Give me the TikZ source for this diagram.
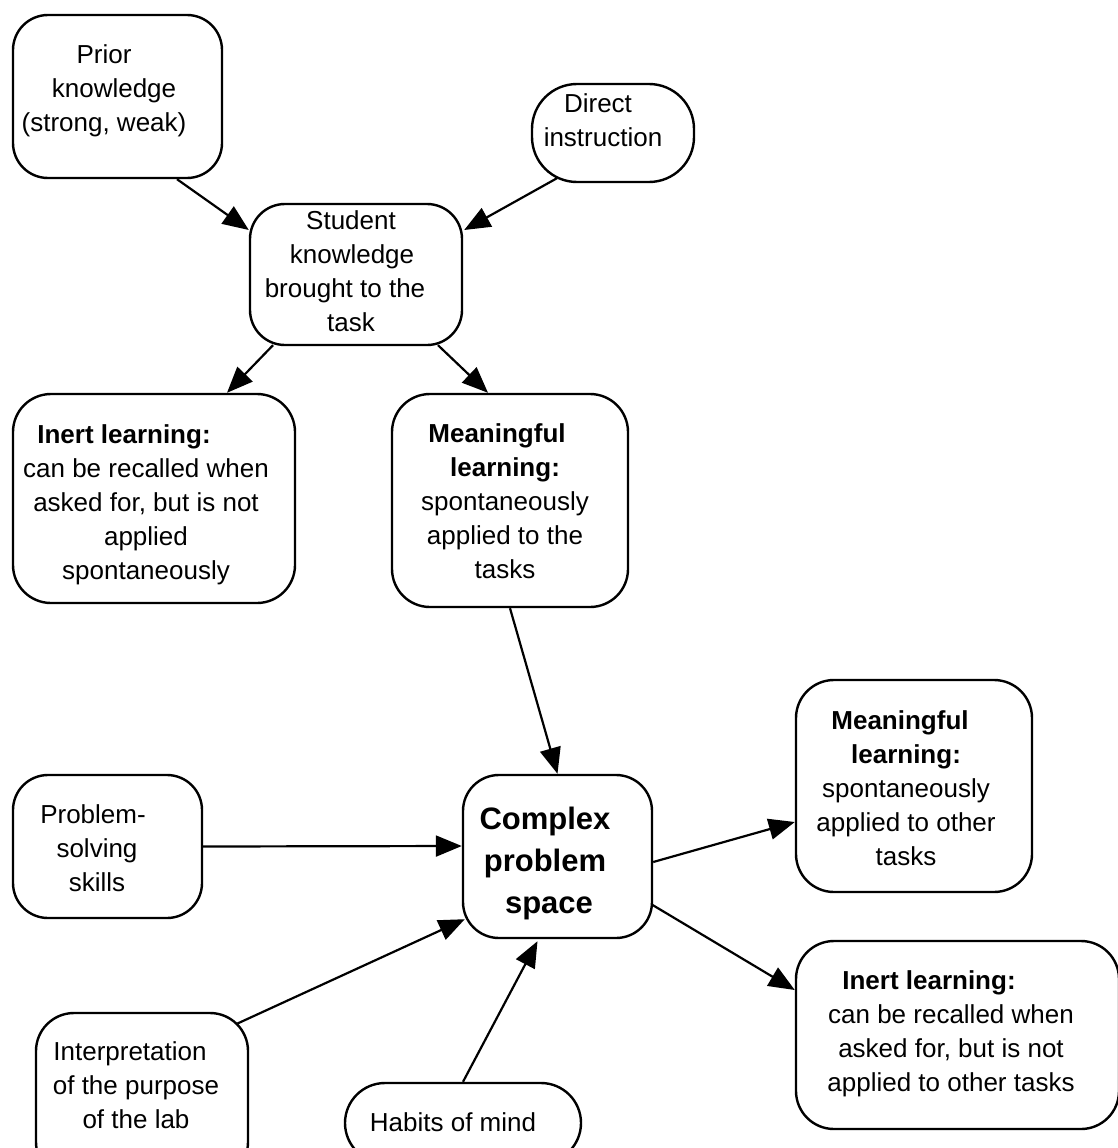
\documentclass[tikz,border=0pt]{standalone}
\usepackage{fontspec}
\setmainfont{Liberation Sans}
\usetikzlibrary{arrows.meta}
\tikzset{
  box/.style={draw, line width=2.4pt, rounded corners=35pt, inner sep=0pt, fill=white},
  tx/.style={align=center, inner sep=0pt, font=\fontsize{26}{34}\selectfont},
  arr/.style={line width=2.2pt, -{Triangle[length=26pt,width=21pt]}},
}
\begin{document}
\begin{tikzpicture}[x=1pt,y=-1pt]
\useasboundingbox (0,0) rectangle (1118,1148);
\fill[white] (0,0) rectangle (1118,1148);

% boxes
\node[box, minimum width=209pt, minimum height=163pt] (prior) at (117.5,96.5) {};
\node[box, rounded corners=45pt, minimum width=162pt, minimum height=98pt] (direct) at (613,133) {};
\node[box, minimum width=212pt, minimum height=141pt] (student) at (356,274.5) {};
\node[box, rounded corners=38pt, minimum width=282pt, minimum height=209pt] (inertL) at (154,498.5) {};
\node[box, rounded corners=38pt, minimum width=236pt, minimum height=213pt] (meanM) at (510,500.5) {};
\node[box, rounded corners=38pt, minimum width=236pt, minimum height=212pt] (meanR) at (914,786) {};
\node[box, minimum width=189pt, minimum height=143pt] (psk) at (107.5,846.5) {};
\node[box, rounded corners=36pt, minimum width=189pt, minimum height=163pt] (cps) at (557.5,856.5) {};
\node[box, rounded corners=38pt, minimum width=323pt, minimum height=188pt] (inertR) at (957.5,1035) {};
\node[box, rounded corners=38pt, minimum width=212pt, minimum height=167pt] (interp) at (142,1096.5) {};
\node[box, rounded corners=40pt, minimum width=236pt, minimum height=80pt] (habits) at (463,1123) {};

% texts
\node[tx] (priorT) at (104,91) {Prior\\\hspace*{20pt}knowledge\\(strong, weak)};
\node[tx] (directT) at (603,120) {Direct\hspace*{10pt}\\instruction};
\node[tx] (studentT) at (345,271.5) {\hspace*{12pt}Student\\\hspace*{14pt}knowledge\\brought to the\\\hspace*{12pt}task};
\node[tx] (inertLT) at (146,504.5) {\textbf{Inert learning:}\hspace*{44pt}\\can be recalled when\\asked for, but is not\hspace*{16pt}\\applied\\spontaneously};
\node[tx] (meanMT) at (505,501) {\textbf{Meaningful}\hspace*{16pt}\\\textbf{learning:}\hspace*{20pt}\\spontaneously\\applied to the\hspace*{4pt}\\tasks};
\node[tx] (meanRT) at (906,788) {\textbf{Meaningful}\hspace*{12pt}\\\textbf{learning:}\hspace*{14pt}\\spontaneously\\applied to other\\tasks};
\node[tx] (pskT) at (93,848) {Problem-\\\hspace*{8pt}solving\\\hspace*{8pt}skills};
\node[tx, font=\fontsize{31}{42}\selectfont\bfseries] (cpsT) at (545,863) {Complex\\problem\\\hspace*{8pt}space};
\node[tx] (inertRT) at (951,1034) {\textbf{Inert learning:}\hspace*{44pt}\\can be recalled when\\asked for, but is not\hspace*{14pt}\\applied to other tasks};
\node[tx] (interpT) at (136,1085.5) {Interpretation\hspace*{12pt}\\of the purpose\\of the lab};
\node[tx] (habitsT) at (453,1122.5) {Habits of mind};

% connectors
\draw[arr] ([shift={(59.5,0)}]prior.south) -- ([shift={(0,-44.5)}]student.west);
\draw[arr] ([shift={(-56,-5)}]direct.south) -- ([shift={(1,-44.5)}]student.east);
\draw[arr] ([shift={(-83,-1)}]student.south) -- ([shift={(73,0)}]inertL.north);
\draw[arr] ([shift={(82,-1)}]student.south) -- ([shift={(-22,0)}]meanM.north);
\draw[arr] (meanM.south) -- (cps.north);
\draw[arr] (psk.east) -- ([shift={(0,-10.5)}]cps.west);
\draw[arr] ([shift={(-11.7,11.7)}]interp.north east) -- ([shift={(3,-20)}]cps.south west);
\draw[arr] (habits.north) -- ([shift={(-20,2)}]cps.south);
\draw[arr] ([shift={(0,5.5)}]cps.east) -- ([shift={(0,36)}]meanR.west);
\draw[arr] ([shift={(-0.6,48.5)}]cps.east) -- ([shift={(0,-45)}]inertR.west);
\end{tikzpicture}
\end{document}
